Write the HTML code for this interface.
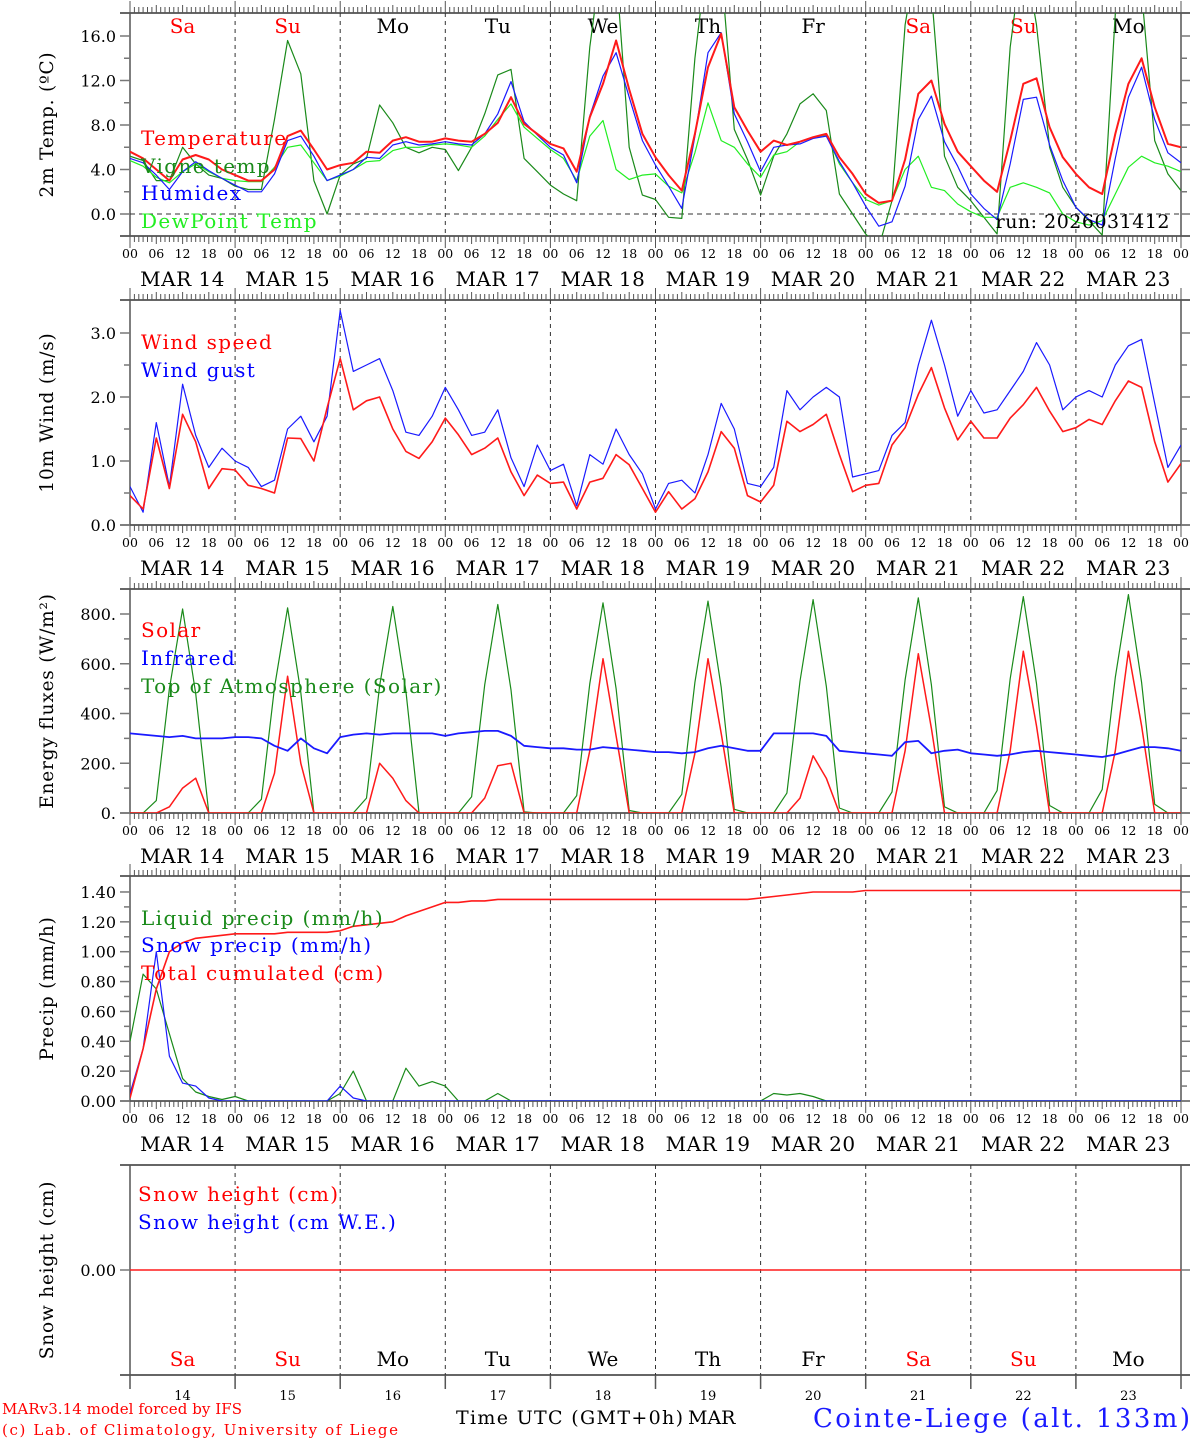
<!DOCTYPE html>
<html><head><meta charset="utf-8">
<style>
html,body{margin:0;padding:0;background:#fff;}
svg{display:block;}
text{font-family:"DejaVu Serif","Liberation Serif",serif;}
</style></head>
<body>
<svg id="chart" width="1194" height="1440" viewBox="0 0 1194 1440" xmlns="http://www.w3.org/2000/svg">
<defs>
<clipPath id="c1"><rect x="130" y="13" width="1051" height="223"/></clipPath>
<clipPath id="c2"><rect x="130" y="300" width="1051" height="225"/></clipPath>
<clipPath id="c3"><rect x="130" y="589" width="1051" height="224"/></clipPath>
<clipPath id="c4"><rect x="130" y="876" width="1051" height="225"/></clipPath>
<clipPath id="c5"><rect x="130" y="1165" width="1051" height="210"/></clipPath>
</defs>
</svg>
<script>
// ---- data (3-hourly from MAR 14 00 UTC to MAR 24 00 UTC) ----
const days = ["14","15","16","17","18","19","20","21","22","23"];
const dayNames = ["Sa","Su","Mo","Tu","We","Th","Fr","Sa","Su","Mo"];
const hourTicks = ["00","06","12","18"];
const tempTicks = ["0.0","4.0","8.0","12.0","16.0"];
const tempTickVals = [0,4,8,12,16];
const windTicks = ["0.0","1.0","2.0","3.0"];
const windTickVals = [0,1,2,3];
const fluxTicks = ["0.","200.","400.","600.","800."];
const fluxTickVals = [0,200,400,600,800];
const precipTicks = ["0.00","0.20","0.40","0.60","0.80","1.00","1.20","1.40"];
const precipTickVals = [0,0.2,0.4,0.6,0.8,1.0,1.2,1.4];

const temperature = [5.6,5.0,4.0,3.0,4.9,5.3,4.9,4.0, 3.5,3.0,3.0,4.0,7.0,7.5,5.8,4.0, 4.4,4.6,5.6,5.5,6.6,6.9,6.5,6.5, 6.8,6.6,6.5,7.2,8.2,10.5,8.1,7.2, 6.3,5.9,3.8,8.7,11.7,15.6,11.2,7.2, 5.1,3.5,2.1,7.2,13.2,16.2,9.6,7.5, 5.6,6.6,6.2,6.5,6.9,7.2,5.1,3.6, 1.8,1.0,1.2,4.9,10.8,12.0,8.1,5.6, 4.3,3.0,2.0,6.6,11.7,12.2,7.8,5.1, 3.6,2.4,1.8,7.2,11.7,14.0,9.6,6.3, 6.0];
const vigneTemp = [5.2,4.8,3.0,3.0,6.0,4.5,3.5,3.2, 2.5,2.2,2.2,8.5,15.6,12.6,3.0,0.0, 3.5,4.5,5.0,9.8,8.2,6.0,5.5,6.0, 5.8,3.9,6.0,9.0,12.5,13.0,5.0,3.8, 2.6,1.8,1.2,15.0,24,22,6.0,1.7, 1.3,-0.3,-0.4,14,24,22,7.6,4.9, 1.7,5.2,7.2,9.9,10.8,9.3,1.8,0.0, -1.8,-3,1.2,17,24,20,5.2,2.4, 1.2,-0.3,-1.8,15,24,17,6.0,2.4, 0.6,-0.6,-1.9,18,24,20,6.6,3.6, 2.1];
const humidex = [5.0,4.6,3.5,2.2,3.8,4.7,3.9,3.2, 2.6,2.0,2.0,3.6,6.6,7.0,5.2,3.0, 3.5,4.0,5.1,5.0,6.2,6.5,6.2,6.3, 6.5,6.3,6.2,7.2,9.0,11.9,8.3,7.1, 6.0,5.3,2.8,8.8,12.4,14.5,10.5,6.6, 4.4,2.5,0.5,7.0,14.5,16.3,9.0,6.5, 3.8,6.0,6.2,6.3,6.8,7.0,4.7,2.8, 0.7,-1.1,-0.7,2.5,8.5,10.6,6.5,4.3, 1.8,0.5,-0.5,4.5,10.3,10.5,6.2,3.0, 0.6,-0.5,-1.0,5.0,10.5,13.2,8.5,5.5, 4.6];
const dewPoint = [4.8,4.3,3.3,2.8,3.8,4.5,3.8,3.2, 3.0,2.9,2.9,4.2,6.0,6.2,4.6,3.0, 3.4,4.0,4.7,4.8,5.7,6.0,6.0,6.2, 6.3,6.2,6.0,7.0,8.5,9.9,7.8,6.8, 5.8,5.0,3.0,7.0,8.4,4.0,3.1,3.5, 3.6,2.5,1.9,5.5,10.0,6.6,6.0,4.5, 3.3,5.3,5.6,6.5,6.9,7.1,4.5,2.8, 1.3,0.8,1.2,4.0,5.2,2.4,2.1,0.9, 0.2,-0.3,-0.3,2.4,2.8,2.4,1.9,0.0, -0.7,-1.0,-0.6,1.8,4.2,5.2,4.6,4.3, 3.8];

const windSpeed = [0.46,0.25,1.36,0.57,1.73,1.3,0.57,0.88, 0.86,0.62,0.57,0.5,1.36,1.35,1.0,1.83, 2.6,1.8,1.94,2.0,1.5,1.15,1.04,1.3, 1.67,1.41,1.1,1.2,1.36,0.83,0.46,0.78, 0.65,0.67,0.25,0.67,0.73,1.1,0.94,0.57, 0.2,0.52,0.25,0.41,0.83,1.46,1.2,0.46, 0.36,0.62,1.62,1.46,1.57,1.73,1.1,0.52, 0.62,0.65,1.25,1.52,2.04,2.46,1.83,1.33, 1.62,1.36,1.36,1.67,1.88,2.15,1.78,1.46, 1.52,1.65,1.57,1.94,2.25,2.15,1.3,0.67, 0.96];
const windGust = [0.6,0.2,1.6,0.6,2.2,1.4,0.9,1.2, 1.0,0.9,0.6,0.7,1.5,1.7,1.3,1.7, 3.35,2.4,2.5,2.6,2.1,1.45,1.4,1.7, 2.15,1.8,1.4,1.45,1.8,1.05,0.6,1.25, 0.85,0.95,0.3,1.1,0.95,1.5,1.1,0.8, 0.25,0.65,0.7,0.5,1.1,1.9,1.5,0.65, 0.6,0.9,2.1,1.8,2.0,2.15,2.0,0.75, 0.8,0.85,1.4,1.6,2.5,3.2,2.5,1.7, 2.1,1.75,1.8,2.1,2.4,2.85,2.5,1.8, 2.0,2.1,2.0,2.5,2.8,2.9,1.9,0.9, 1.25];

const solar = [0,0,0,25,100,140,0,0, 0,0,0,160,550,200,0,0, 0,0,0,200,140,50,0,0, 0,0,0,60,190,200,0,0, 0,0,0,250,620,310,0,0, 0,0,0,240,620,320,0,0, 0,0,0,60,230,140,0,0, 0,0,0,250,640,340,0,0, 0,0,0,250,650,350,0,0, 0,0,0,250,650,350,0,0, 0];
const infrared = [320,315,310,305,310,300,300,300, 305,305,300,270,250,300,260,240, 305,315,320,315,320,320,320,320, 310,320,325,330,330,310,270,265, 260,260,255,255,265,260,255,250, 245,245,240,245,260,270,260,250, 250,320,320,320,320,310,250,245, 240,235,230,285,290,240,250,255, 240,235,230,235,245,250,245,240, 235,230,225,235,250,265,265,260, 250];
const topOfAtmosphere = [0,0,50,500,820,480,0,0, 0,0,55,505,825,485,0,0, 0,0,60,510,830,490,0,0, 0,0,65,515,838,495,5,0, 0,0,70,520,845,500,10,0, 0,0,75,525,852,505,15,0, 0,0,80,530,858,510,20,0, 0,0,85,535,865,515,25,0, 0,0,90,540,870,520,30,0, 0,0,95,545,878,525,35,0, 0];

const liquidPrecip = [0.4,0.85,0.75,0.45,0.15,0.06,0.03,0.01, 0.03,0,0,0,0,0,0,0, 0.05,0.2,0,0,0,0.22,0.1,0.13, 0.1,0,0,0,0.05,0,0,0, 0,0,0,0,0,0,0,0, 0,0,0,0,0,0,0,0, 0,0.05,0.04,0.05,0.03,0,0,0, 0,0,0,0,0,0,0,0, 0,0,0,0,0,0,0,0, 0,0,0,0,0,0,0,0, 0];
const snowPrecip = [0.05,0.35,1.0,0.3,0.12,0.1,0.02,0, 0,0,0,0,0,0,0,0, 0.1,0.02,0,0,0,0,0,0, 0,0,0,0,0,0,0,0, 0,0,0,0,0,0,0,0, 0,0,0,0,0,0,0,0, 0,0,0,0,0,0,0,0, 0,0,0,0,0,0,0,0, 0,0,0,0,0,0,0,0, 0,0,0,0,0,0,0,0, 0];
const totalCumulated = [0.02,0.35,0.75,1.0,1.06,1.09,1.1,1.11, 1.12,1.12,1.12,1.12,1.13,1.13,1.13,1.13, 1.14,1.17,1.18,1.19,1.2,1.24,1.27,1.3, 1.33,1.33,1.34,1.34,1.35,1.35,1.35,1.35, 1.35,1.35,1.35,1.35,1.35,1.35,1.35,1.35, 1.35,1.35,1.35,1.35,1.35,1.35,1.35,1.35, 1.36,1.37,1.38,1.39,1.4,1.4,1.4,1.4, 1.41,1.41,1.41,1.41,1.41,1.41,1.41,1.41, 1.41,1.41,1.41,1.41,1.41,1.41,1.41,1.41, 1.41,1.41,1.41,1.41,1.41,1.41,1.41,1.41, 1.41];
const snowHeight = [0,0,0,0,0,0,0,0, 0,0,0,0,0,0,0,0, 0,0,0,0,0,0,0,0, 0,0,0,0,0,0,0,0, 0,0,0,0,0,0,0,0, 0,0,0,0,0,0,0,0, 0,0,0,0,0,0,0,0, 0,0,0,0,0,0,0,0, 0,0,0,0,0,0,0,0, 0,0,0,0,0,0,0,0, 0];

// ---- rendering ----
const NS="http://www.w3.org/2000/svg";
const svg=document.getElementById("chart");
const X0=130, X1=1181, PXH=(X1-X0)/240;
function xh(h){return X0+h*PXH;}
function xi(i){return xh(i*3);}
function mk(tag,attrs,parent){const e=document.createElementNS(NS,tag);for(const k in attrs)e.setAttribute(k,attrs[k]);(parent||svg).appendChild(e);return e;}
function txt(s,x,y,size,fill,anchor,parent,ls){const t=mk("text",{x:x,y:y,"font-size":size,fill:fill,"text-anchor":anchor||"start"},parent);if(ls)t.setAttribute("letter-spacing",ls);t.textContent=s;return t;}
function fit(t,len){t.setAttribute("textLength",len);t.setAttribute("lengthAdjust","spacing");}

const panels=[
 {top:13,bot:236,y:v=>214-v*11.125,ticks:tempTickVals,labels:tempTicks,minor:[2,6,10,14],clip:"c1",title:"2m Temp. (\u00BAC)",hourly:true},
 {top:300,bot:525,y:v=>525-v*64,ticks:windTickVals,labels:windTicks,minor:[0.5,1.5,2.5],clip:"c2",title:"10m Wind (m/s)",hourly:true},
 {top:589,bot:813,y:v=>813-v*0.24875,ticks:fluxTickVals,labels:fluxTicks,minor:[100,300,500,700],clip:"c3",title:"Energy fluxes (W/m\u00B2)",hourly:true},
 {top:876,bot:1101,y:v=>1101-v*149.3,ticks:precipTickVals,labels:precipTicks,minor:[0.1,0.3,0.5,0.7,0.9,1.1,1.3],clip:"c4",title:"Precip (mm/h)",hourly:true},
 {top:1165,bot:1375,y:v=>1270-v*100,ticks:[0],labels:["0.00"],minor:[],clip:"c5",title:"Snow height (cm)",hourly:false}
];

panels.forEach((p,pi)=>{
 const g=mk("g",{});
 
 
 mk("line",{x1:120,y1:p.top,x2:1190,y2:p.top,stroke:"#333","stroke-width":1.5},g);
 mk("line",{x1:120,y1:p.bot,x2:1190,y2:p.bot,stroke:"#333","stroke-width":1.5},g);
 mk("line",{x1:X0,y1:p.top,x2:X0,y2:p.bot,stroke:"#555","stroke-width":1.5},g);
 mk("line",{x1:X1,y1:p.top,x2:X1,y2:p.bot,stroke:"#555","stroke-width":1.5},g);
 if(p.hourly){
  let d="";
  for(let h=0;h<=240;h++){
   const x=xh(h).toFixed(1);
   const L=(h%24===0)?12:(h%6===0?8:6);
   d+=`M${x} ${p.top}v-${L}M${x} ${p.bot}v${L}`;
  }
  mk("path",{d:d,stroke:"#555","stroke-width":1,fill:"none"},g);
 } else {
  let d="";
  for(let k=0;k<=10;k++){const x=xh(k*24).toFixed(1);d+=`M${x} ${p.bot}v14`;}
  mk("path",{d:d,stroke:"#555","stroke-width":1.5,fill:"none"},g);
 }
 for(let k=1;k<10;k++){
  const l=mk("line",{x1:xh(k*24),y1:p.top,x2:xh(k*24),y2:p.bot,stroke:"#333","stroke-width":1,"stroke-dasharray":"4,4"},g);
  
  
 }
 p.ticks.forEach((v,i)=>{
  const y=p.y(v);
  mk("line",{x1:120,y1:y,x2:X0,y2:y,stroke:"#777","stroke-width":1.5},g);
  mk("line",{x1:X1,y1:y,x2:1190,y2:y,stroke:"#777","stroke-width":1.5},g);
  const t=txt(p.labels[i],116,y+6,16,"#000","end",g);
  
  
 });
 p.minor.forEach(v=>{
  const y=p.y(v);
  mk("line",{x1:124,y1:y,x2:X0,y2:y,stroke:"#777","stroke-width":1.5},g);
  mk("line",{x1:X1,y1:y,x2:1187,y2:y,stroke:"#777","stroke-width":1.5},g);
 });
 const cy=(p.top+p.bot)/2;
 const tt=txt(p.title,0,0,18.5,"#000","middle",g,"0.8");
 tt.setAttribute("transform",`translate(53,${cy}) rotate(-90)`);
 
 
 if(p.hourly){
  for(let k=0;k<10;k++){
   hourTicks.forEach((s,j)=>{
    const t=txt(s,xh(k*24+j*6),p.bot+22,12.5,"#000","middle",g);
    
    
   });
   const m=txt("MAR "+days[k],xh(k*24+12),p.bot+50,20,"#000","middle",g,"0.5");
   
   
  }
  const t=txt("00",xh(240),p.bot+22,12.5,"#000","middle",g);
  
  
 } else {
  for(let k=0;k<10;k++){
   const t=txt(days[k],xh(k*24+12),p.bot+25,13,"#000","middle",g);
   
   
  }
 }
});

const zl=mk("line",{x1:X0,y1:panels[0].y(0),x2:X1,y2:panels[0].y(0),stroke:"#333","stroke-width":1,"stroke-dasharray":"5,4"});



dayNames.forEach((s,k)=>{
 const col=(s==="Sa"||s==="Su")?"#f00":"#000";
 const a=txt(s,xh(k*24+12),33,20,col,"middle");
 
 
 const b=txt(s,xh(k*24+12),1366,20,col,"middle");
 
 
});

function series(arr,p,color,w,name){
 let d="";
 arr.forEach((v,i)=>{d+=(i?"L":"M")+xi(i).toFixed(1)+" "+p.y(v).toFixed(1);});
 const path=mk("path",{d:d,stroke:color,"stroke-width":w,fill:"none","clip-path":`url(#${p.clip})`,"stroke-linejoin":"round"});
 
 
}
series(vigneTemp,panels[0],"#1a8a1a",1.2,"vigne-temp-line");
series(dewPoint,panels[0],"#22ee22",1.2,"dewpoint-line");
series(humidex,panels[0],"#1a1aff",1.2,"humidex-line");
series(temperature,panels[0],"#ff1a1a",2,"temperature-line");
series(windGust,panels[1],"#1a1aff",1.2,"wind-gust-line");
series(windSpeed,panels[1],"#ff1a1a",1.6,"wind-speed-line");
series(topOfAtmosphere,panels[2],"#1a8a1a",1.2,"toa-solar-line");
series(solar,panels[2],"#ff1a1a",1.5,"solar-line");
series(infrared,panels[2],"#1a1aff",1.8,"infrared-line");
series(liquidPrecip,panels[3],"#1a8a1a",1.2,"liquid-precip-line");
series(snowPrecip,panels[3],"#1a1aff",1.2,"snow-precip-line");
series(totalCumulated,panels[3],"#ff1a1a",1.6,"total-cumulated-line");
series(snowHeight,panels[4],"#ff1a1a",1.6,"snow-height-line");

function legend(s,x,y,col){const t=txt(s,x,y,20,col,"start",null,"1.4");}
legend("Temperature",141,145,"#f00");
legend("Vigne temp",141,173,"#1a8a1a");
legend("Humidex",141,200,"#00f");
legend("DewPoint Temp",141,228,"#2e2");
legend("Wind speed",141,349,"#f00");
legend("Wind gust",141,377,"#00f");
legend("Solar",141,637,"#f00");
legend("Infrared",141,665,"#00f");
legend("Top of Atmosphere (Solar)",141,693,"#1a8a1a");
legend("Liquid precip (mm/h)",141,925,"#1a8a1a");
legend("Snow precip (mm/h)",141,952,"#00f");
legend("Total cumulated (cm)",141,980,"#f00");
legend("Snow height (cm)",138,1201,"#f00");
legend("Snow height (cm W.E.)",138,1229,"#00f");

const run=txt("run: 2026031412",1170,228,19,"#000","end",null,"0.5");


const f1=txt("MARv3.14 model forced by IFS",2,1414,15,"#f00","start");
fit(f1,240);


const f2=txt("(c) Lab. of Climatology, University of Liege",2,1435,15,"#f00","start");
fit(f2,396);


const xt=txt("Time UTC (GMT+0h)",456,1424,19,"#000","start");
fit(xt,227);


const xm=txt("MAR",688,1424,19,"#000","start");


const st=txt("Cointe-Liege (alt. 133m)",813,1427,26,"#1a1aff","start");
fit(st,377);


</script>
</body></html>
